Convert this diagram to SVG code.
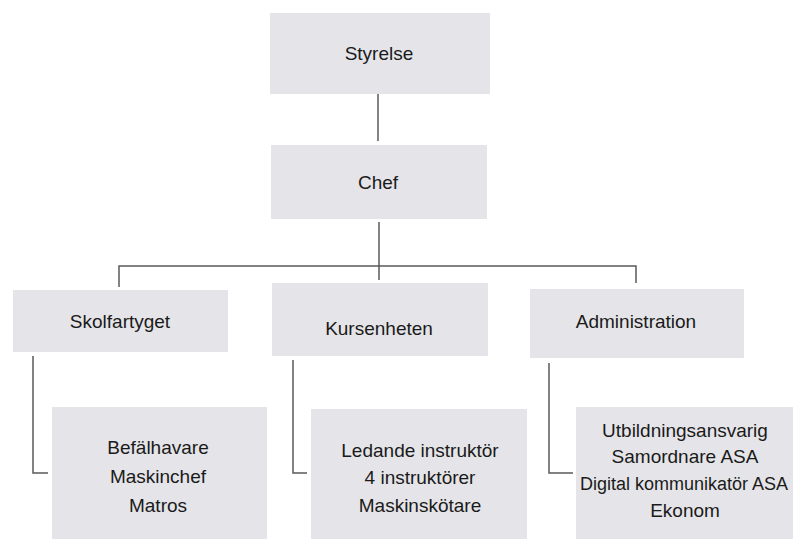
<svg xmlns="http://www.w3.org/2000/svg" width="793" height="539" viewBox="0 0 793 539">
  <style>
    .box { fill: #e5e5e9; }
    .lbl { font-family: "Liberation Sans", Arial, sans-serif; font-size: 19px; fill: #1a1a1a; text-anchor: middle; }
    .conn { fill: none; stroke: #5a5a5a; stroke-width: 1.5; }
  </style>
  <rect width="793" height="539" fill="#ffffff"/>
  <g id="connectors">
    <path class="conn" d="M378 94 V141"/>
    <path class="conn" d="M379 222 V280"/>
    <path class="conn" d="M119 287 V266 H636 V283"/>
    <path class="conn" d="M33 356 V473 H48"/>
    <path class="conn" d="M293 360 V473 H307"/>
    <path class="conn" d="M549 363 V473 H573"/>
  </g>
  <g id="styrelse">
    <rect class="box" x="270" y="13" width="220" height="81"/>
    <text class="lbl" x="379" y="60">Styrelse</text>
  </g>
  <g id="chef">
    <rect class="box" x="271" y="145" width="216" height="74"/>
    <text class="lbl" x="378" y="189">Chef</text>
  </g>
  <g id="skolfartyget">
    <rect class="box" x="13" y="290" width="215" height="62"/>
    <text class="lbl" x="120" y="328">Skolfartyget</text>
  </g>
  <g id="kursenheten">
    <rect class="box" x="272" y="283" width="216" height="73"/>
    <text class="lbl" x="379" y="335">Kursenheten</text>
  </g>
  <g id="administration">
    <rect class="box" x="530" y="289" width="214" height="69"/>
    <text class="lbl" x="636" y="328">Administration</text>
  </g>
  <g id="skolfartyget-staff">
    <rect class="box" x="52" y="407" width="215" height="132"/>
    <text class="lbl" x="158" y="454">Befälhavare</text>
    <text class="lbl" x="158" y="483">Maskinchef</text>
    <text class="lbl" x="158" y="512">Matros</text>
  </g>
  <g id="kursenheten-staff">
    <rect class="box" x="311" y="409" width="216" height="130"/>
    <text class="lbl" x="420" y="457">Ledande instruktör</text>
    <text class="lbl" x="420" y="484">4 instruktörer</text>
    <text class="lbl" x="420" y="512">Maskinskötare</text>
  </g>
  <g id="administration-staff">
    <rect class="box" x="576" y="407" width="217" height="132"/>
    <text class="lbl" x="685" y="437">Utbildningsansvarig</text>
    <text class="lbl" x="685" y="463">Samordnare ASA</text>
    <text class="lbl" x="684" y="490" style="font-size:18px">Digital kommunikatör ASA</text>
    <text class="lbl" x="685" y="517">Ekonom</text>
  </g>
</svg>
